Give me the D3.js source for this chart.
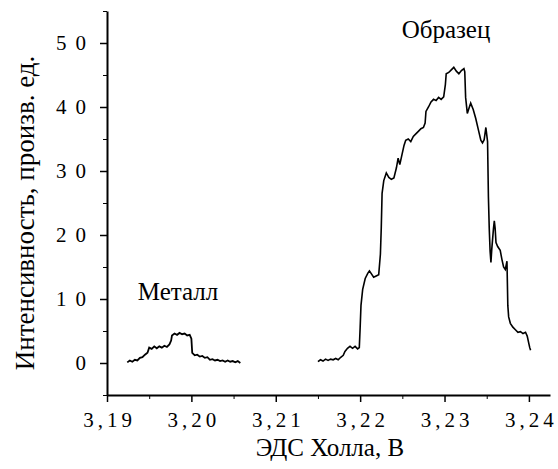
<!DOCTYPE html>
<html>
<head>
<meta charset="utf-8">
<script src="https://cdn.jsdelivr.net/npm/d3@7"></script>
</head>
<body style="margin:0">
<svg id="chart" width="558" height="469" font-family="Liberation Serif">
  <text x="330" y="456" text-anchor="middle" font-family="Liberation Serif" font-size="25">ЭДС Холла, В</text>
  <text transform="rotate(-90)" x="-213" y="34" text-anchor="middle" font-family="Liberation Serif" font-size="27">Интенсивность, произв. ед.</text>
  <text x="178" y="300" text-anchor="middle" font-family="Liberation Serif" font-size="25">Металл</text>
  <text x="446" y="38" text-anchor="middle" font-family="Liberation Serif" font-size="25">Образец</text>
</svg>
<script>
// metal ("Металл") curve
const metalX = [3.1924, 3.1927, 3.1930, 3.1933, 3.1936, 3.1939, 3.1942, 3.1945, 3.1948, 3.1950,
  3.1953, 3.1956, 3.1959, 3.1962, 3.1965, 3.1968, 3.1971, 3.1974, 3.1976, 3.1977,
  3.1980, 3.1983, 3.1986, 3.1989, 3.1992, 3.1995, 3.1998, 3.2000, 3.2001, 3.2004,
  3.2007, 3.2010, 3.2013, 3.2016, 3.2019, 3.2022, 3.2025, 3.2028, 3.2031, 3.2034,
  3.2037, 3.2040, 3.2043, 3.2046, 3.2049, 3.2052, 3.2055, 3.2058]
const metalY = [0.1, 0.4, 0.2, 0.5, 0.4, 0.8, 0.9, 1.3, 1.6, 2.4,
  2.2, 2.6, 2.3, 2.6, 2.4, 2.7, 2.5, 2.9, 3.5, 4.3,
  4.6, 4.4, 4.7, 4.5, 4.6, 4.3, 4.4, 3.8, 1.6, 1.2,
  1.3, 1.0, 1.1, 0.8, 0.9, 0.5, 0.6, 0.4, 0.5, 0.3,
  0.4, 0.2, 0.4, 0.2, 0.3, 0.1, 0.3, 0.0]

// sample ("Образец") curve
const sampleX = [3.2150, 3.2153, 3.2156, 3.2159, 3.2162, 3.2165, 3.2168, 3.2171, 3.2174, 3.2177,
  3.2180, 3.2182, 3.2185, 3.2188, 3.2191, 3.2194, 3.2197, 3.2199, 3.2200, 3.2201,
  3.2203, 3.2206, 3.2209, 3.2211, 3.2213, 3.2216, 3.2219, 3.2222, 3.2224, 3.2225,
  3.2226, 3.2228, 3.2231, 3.2234, 3.2237, 3.2240, 3.2243, 3.2245, 3.2247, 3.2249,
  3.2252, 3.2254, 3.2257, 3.2260, 3.2263, 3.2266, 3.2269, 3.2272, 3.2275, 3.2277,
  3.2278, 3.2281, 3.2284, 3.2287, 3.2290, 3.2293, 3.2296, 3.2299, 3.2301, 3.2302,
  3.2305, 3.2308, 3.2311, 3.2314, 3.2317, 3.2320, 3.2323, 3.2324, 3.2325, 3.2327,
  3.2329, 3.2331, 3.2334, 3.2337, 3.2340, 3.2343, 3.2345, 3.2347, 3.2349, 3.2351,
  3.2352, 3.2353, 3.2354, 3.2355, 3.2356, 3.2358, 3.2359, 3.2360, 3.2361, 3.2363,
  3.2366, 3.2368, 3.2370, 3.2372, 3.2374, 3.2375, 3.2376, 3.2378, 3.2381, 3.2384,
  3.2387, 3.2390, 3.2393, 3.2396, 3.2398, 3.2400, 3.2401, 3.2402]
const sampleY = [0.2, 0.5, 0.3, 0.6, 0.4, 0.6, 0.5, 0.7, 0.5, 0.9,
  1.2, 1.8, 2.3, 2.6, 2.3, 2.6, 2.2, 2.4, 5.5, 9.0,
  11.5, 13.2, 14.0, 14.4, 14.0, 13.4, 13.6, 13.8, 17.0, 21.0,
  26.5, 28.5, 29.7, 29.0, 28.7, 28.9, 30.5, 32.0, 31.0, 32.2,
  34.0, 34.8, 35.0, 34.6, 35.4, 35.8, 36.2, 36.6, 36.8, 37.5,
  39.3, 40.0, 40.8, 41.2, 41.0, 41.5, 41.2, 41.6, 43.5, 45.2,
  45.4, 45.8, 46.2, 45.6, 45.2, 45.7, 46.0, 45.5, 41.5, 39.0,
  39.8, 40.6, 39.6, 38.2, 36.5, 34.8, 34.4, 34.9, 36.8, 34.6,
  26.0, 21.0, 17.5, 15.7, 17.8, 21.0, 22.2, 21.0, 18.8, 18.2,
  17.6, 16.2, 15.0, 14.6, 15.9, 9.0, 7.2, 6.2, 5.6, 5.2,
  4.8, 4.9, 4.6, 4.8, 4.2, 3.0, 2.4, 2.0]

const xTicks = [3.19, 3.20, 3.21, 3.22, 3.23, 3.24]
const xMinor = [3.195, 3.205, 3.215, 3.225, 3.235]
const yTicks = [0, 10, 20, 30, 40, 50]
const yMinor = [-5, 5, 15, 25, 35, 45, 55]

const svg = d3.select("#chart")

const xScale = d3.scaleLinear()
  .domain([3.19, 3.2425])
  .range([107, 550])

const yScale = d3.scaleLinear()
  .domain([-5, 55])
  .range([395, 11])

const line = d3.line()
  .x(d => xScale(d[0]))
  .y(d => yScale(d[1]))

svg.append("path")
  .datum(metalX.map((x, i) => [x, metalY[i]]))
  .attr("d", line)
  .attr("fill", "none")
  .attr("stroke", "#000")
  .attr("stroke-width", 1.8)

svg.append("path")
  .datum(sampleX.map((x, i) => [x, sampleY[i]]))
  .attr("d", line)
  .attr("fill", "none")
  .attr("stroke", "#000")
  .attr("stroke-width", 1.6)

// minor ticks first, then the main axes on top
svg.append("g")
  .attr("transform", `translate(0, ${yScale(-5)})`)
  .call(d3.axisBottom(xScale).tickValues(xMinor).tickSize(4).tickFormat(""))
  .call(g => g.select(".domain").remove())
  .call(g => g.selectAll("text").remove())

svg.append("g")
  .attr("transform", `translate(${xScale(3.19)}, 0)`)
  .call(d3.axisLeft(yScale).tickValues(yMinor).tickSize(4).tickFormat(""))
  .call(g => g.select(".domain").remove())
  .call(g => g.selectAll("text").remove())

const xAxis = svg.append("g")
  .attr("transform", `translate(0, ${yScale(-5)})`)
  .call(d3.axisBottom(xScale).tickValues(xTicks).tickSize(7).tickSizeOuter(0)
    .tickFormat(d => d3.format(".2f")(d).replace(".", ",")))
  .attr("font-family", null)
  .attr("font-size", null)

xAxis.select(".domain").attr("stroke-width", 2)
xAxis.selectAll(".tick line").attr("stroke-width", 1.5)
xAxis.selectAll("text")
  .attr("font-family", "Liberation Serif")
  .attr("font-size", 21)
  .attr("letter-spacing", 4)
  .attr("dx", 2)
  .attr("dy", "1.05em")

const yAxis = svg.append("g")
  .attr("transform", `translate(${xScale(3.19)}, 0)`)
  .call(d3.axisLeft(yScale).tickValues(yTicks).tickSize(7).tickSizeOuter(0))
  .attr("font-family", null)
  .attr("font-size", null)

yAxis.select(".domain").attr("stroke-width", 2)
yAxis.selectAll(".tick line").attr("stroke-width", 1.5)
yAxis.selectAll("text")
  .attr("font-family", "Liberation Serif")
  .attr("font-size", 21)
  .attr("letter-spacing", 9)
  .attr("x", -12)
</script>
</body>
</html>
